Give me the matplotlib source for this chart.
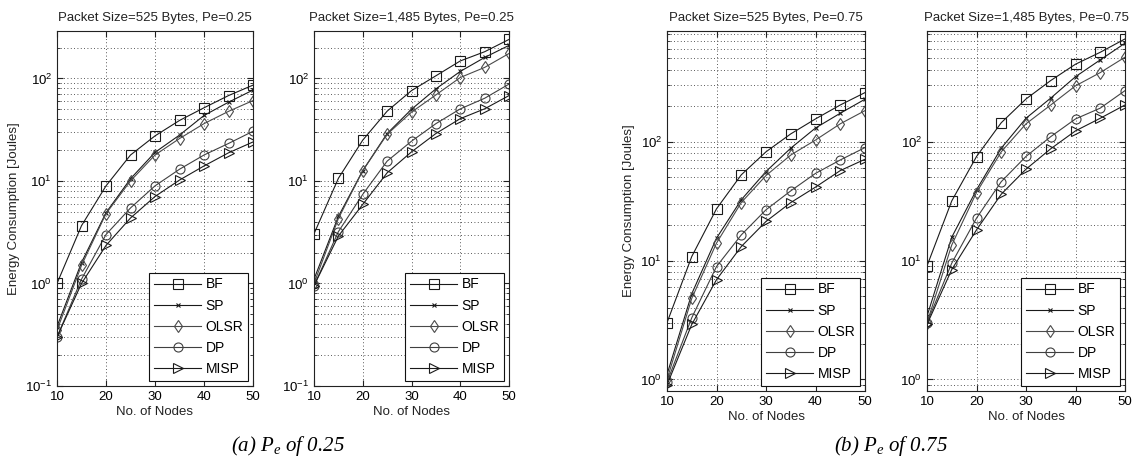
import matplotlib
matplotlib.use("Agg")
import matplotlib.pyplot as plt
from matplotlib.ticker import LogLocator, NullFormatter, FixedLocator

plt.rcParams['font.family'] = ['Liberation Sans', 'DejaVu Sans']
plt.rcParams['mathtext.fontset'] = 'custom'
plt.rcParams['mathtext.rm'] = 'Liberation Sans'
plt.rcParams['mathtext.it'] = 'Liberation Sans:italic'

nodes = [10, 15, 20, 25, 30, 35, 40, 45, 50]
series_names = ["BF", "SP", "OLSR", "DP", "MISP"]

# Pe = 0.25, 525 bytes
a525_bf = [1.0, 3.66, 8.95, 17.9, 27.5, 38.9, 51.7, 68, 86]
a525_sp = [0.38, 1.6, 4.9, 10.5, 19, 28, 43.5, 58.6, 77]
a525_olsr = [0.35, 1.5, 4.8, 10, 17.9, 25.9, 36.2, 47.7, 60.8]
a525_dp = [0.3, 1.1, 3.0, 5.45, 8.95, 13, 17.9, 23.2, 30.5]
a525_misp = [0.3, 1.0, 2.35, 4.35, 7.05, 10.2, 14, 18.8, 24]

# Pe = 0.25, 1485 bytes
a1485_bf = [3.05, 10.6, 25, 47.9, 76, 106, 148, 182, 240]
a1485_sp = [1.1, 4.5, 12.6, 29, 50, 79, 117, 160, 210]
a1485_olsr = [1.0, 4.3, 12.6, 28.5, 46.9, 69, 102, 128, 175]
a1485_dp = [0.95, 3.2, 7.4, 15.6, 24.4, 36.2, 50.4, 64, 88]
a1485_misp = [0.95, 2.9, 5.9, 12, 19.2, 29, 40.5, 50.5, 68]

# Pe = 0.75, 525 bytes
b525_bf = [3.0, 10.8, 27.2, 52.5, 82, 116, 155, 203, 258]
b525_sp = [1.1, 5.25, 15.4, 32.4, 56, 88, 130, 173, 227]
b525_olsr = [1.0, 4.8, 14, 30.7, 51.8, 77, 103, 141, 182]
b525_dp = [0.95, 3.3, 8.9, 16.4, 26.7, 38.5, 54, 70, 89]
b525_misp = [0.9, 2.9, 6.9, 13.1, 21.3, 30.7, 41.4, 57, 71]

# Pe = 0.75, 1485 bytes
b1485_bf = [9.0, 31.7, 74.8, 144, 228, 326, 447, 563, 729]
b1485_sp = [3.4, 15.7, 39.3, 88, 157, 232, 351, 486, 671]
b1485_olsr = [3.0, 13.5, 37.3, 82, 141, 203, 294, 380, 512]
b1485_dp = [3.0, 9.5, 22.7, 46, 75, 110, 155, 191, 268]
b1485_misp = [2.9, 8.4, 18.1, 36.1, 58.6, 87, 123, 157, 203]

titles = ["Packet Size=525 Bytes, Pe=0.25", "Packet Size=1,485 Bytes, Pe=0.25",
          "Packet Size=525 Bytes, Pe=0.75", "Packet Size=1,485 Bytes, Pe=0.75"]
panel_data = [
    [a525_bf, a525_sp, a525_olsr, a525_dp, a525_misp],
    [a1485_bf, a1485_sp, a1485_olsr, a1485_dp, a1485_misp],
    [b525_bf, b525_sp, b525_olsr, b525_dp, b525_misp],
    [b1485_bf, b1485_sp, b1485_olsr, b1485_dp, b1485_misp],
]
ylims = [(0.1, 290), (0.1, 290), (0.8, 850), (0.8, 850)]
captions = [r"(a) $P_e$ of 0.25", r"(b) $P_e$ of 0.75"]

W, H = 1141, 470
fig = plt.figure(figsize=(W / 100, H / 100), dpi=100)

# pixel boxes: left, right, top, bottom
boxes = [(57, 253, 31, 386), (314, 509, 31, 386), (667, 865, 31, 391), (927, 1125, 31, 391)]

styles = [
    dict(marker='s', color='#1a1a1a', ms=6.5),
    dict(marker='x', color='#1a1a1a', ms=3.5),
    dict(marker='d', color='#4a4a4a', ms=6.5),
    dict(marker='o', color='#404040', ms=6.5),
    dict(marker='>', color='#1a1a1a', ms=6.5),
]

for i, (l, r, t, b) in enumerate(boxes):
    ax = fig.add_axes([l / W, 1 - b / H, (r - l) / W, (b - t) / H])
    for name, vals, st in zip(series_names, panel_data[i], styles):
        ax.plot(nodes, vals, marker=st['marker'], color=st['color'], lw=0.8,
                ms=st['ms'], mfc='none', mec=st['color'], mew=0.8, label=name)
    ax.set_yscale('log')
    ax.set_xlim(10, 50)
    ax.set_ylim(*ylims[i])
    ax.xaxis.set_major_locator(FixedLocator([10, 20, 30, 40, 50]))
    ax.yaxis.set_major_locator(LogLocator(base=10, numticks=10))
    ax.yaxis.set_minor_locator(LogLocator(base=10, subs=range(2, 10), numticks=20))
    ax.yaxis.set_minor_formatter(NullFormatter())
    ax.grid(True, which='major', linestyle=(0, (1, 3)), color='#222222', lw=0.6)
    ax.grid(True, which='minor', axis='y', linestyle=(0, (1, 3)), color='#222222', lw=0.6)
    ax.tick_params(which='both', direction='in', top=True, right=True, labelsize=9.5,
                   color='#222222')
    ax.tick_params(which='major', length=4)
    ax.tick_params(which='minor', length=2)
    for s in ax.spines.values():
        s.set_linewidth(0.8)
        s.set_color('#222222')
    ax.set_title(titles[i], fontsize=9.5, pad=7, color='#222222')
    ax.set_xlabel("No. of Nodes", fontsize=9.5, labelpad=2, color='#222222')
    if i in (0, 2):
        ax.set_ylabel("Energy Consumption [Joules]", fontsize=9.5, labelpad=4, color='#222222')
    leg = ax.legend(loc='lower right', fontsize=10, frameon=True, fancybox=False,
                    edgecolor='#111111', framealpha=1, borderaxespad=0.35,
                    handlelength=3.4, handletextpad=0.3, labelspacing=0.52,
                    borderpad=0.35)
    leg.get_frame().set_linewidth(0.8)

cap_kw = dict(fontsize=15, family='Liberation Serif', style='italic', ha='center', va='center')
plt.rcParams['mathtext.it'] = 'Liberation Serif:italic'
fig.text(288 / W, 1 - 446 / H, captions[0], **cap_kw)
fig.text(891 / W, 1 - 446 / H, captions[1], **cap_kw)

fig.savefig("out.png", dpi=100)
